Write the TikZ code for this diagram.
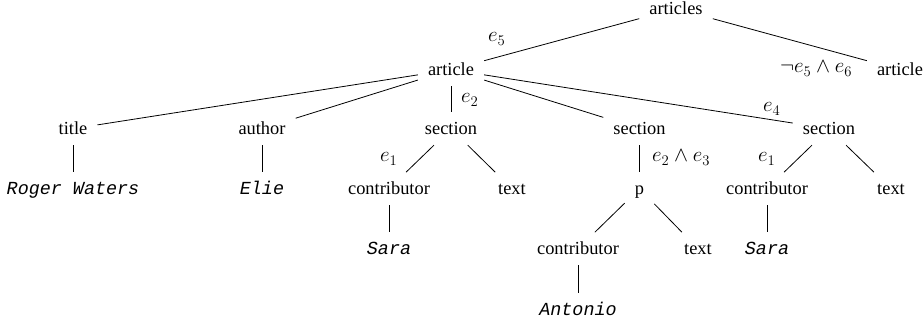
\documentclass[tikz,border=0pt]{standalone}
\usepackage{fix-cm}
\usepackage{fontspec}
\setmainfont{Liberation Serif}
\setmonofont{Liberation Mono}
\begin{document}
\begin{tikzpicture}[x=1pt,y=-1pt,
  tn/.style={anchor=base, inner xsep=10pt, inner ysep=10pt, text height=12.6pt, text depth=0pt, font=\fontsize{18.4}{22}\selectfont},
  leaf/.style={tn, font=\fontsize{18.4}{22}\selectfont\ttfamily\itshape},
  lab/.style={anchor=base west, inner sep=0pt, font=\fontsize{21}{25}\selectfont},
  conn/.style={line width=0.8pt}]
\useasboundingbox (0,0) rectangle (923,328);
% level 0-1
\node[tn] (articles) at (676,15) {articles};
\node[tn] (art1) at (451,76) {article};
\node[tn] (art2) at (900,76) {article};
% level 2
\node[tn] (title) at (73,135) {title};
\node[tn] (author) at (262,135) {author};
\node[tn] (sec1) at (451,135) {section};
\node[tn] (sec2) at (639.5,135) {section};
\node[tn] (sec3) at (829,135) {section};
% level 3
\node[leaf] (rw) at (73,195) {Roger Waters};
\node[leaf] (elie) at (262,195) {Elie};
\node[tn] (con1) at (389,195) {contributor};
\node[tn] (txt1) at (512,195) {text};
\node[tn] (p) at (639.5,195) {p};
\node[tn] (con3) at (767,195) {contributor};
\node[tn] (txt3) at (891,195) {text};
% level 4
\node[leaf] (sara1) at (389,255) {Sara};
\node[tn] (con2) at (578,255) {contributor};
\node[tn] (txt2) at (698,255) {text};
\node[leaf] (sara3) at (767,255) {Sara};
% level 5
\node[leaf] (antonio) at (578,316) {Antonio};
% labels
\node[lab] (l5) at (488,42) {$e_5$};
\node[lab] (l56) at (780,73) {$\neg e_5 \wedge e_6$};
\node[lab] (l2) at (461,103) {$e_2$};
\node[lab] (l4) at (763,112) {$e_4$};
\node[lab] (l1a) at (380,162) {$e_1$};
\node[lab] (l23) at (652,162) {$e_2 \wedge e_3$};
\node[lab] (l1b) at (758,162) {$e_1$};
% edges
\draw[conn] (articles) -- (art1);
\draw[conn] (articles) -- (art2);
\draw[conn] (art1) -- (title);
\draw[conn] (art1) -- (author);
\draw[conn] (art1) -- (sec1);
\draw[conn] (art1) -- (sec2);
\draw[conn] (art1) -- (sec3);
\draw[conn] (title) -- (rw);
\draw[conn] (author) -- (elie);
\draw[conn] (sec1) -- (con1);
\draw[conn] (sec1) -- (txt1);
\draw[conn] (con1) -- (sara1);
\draw[conn] (sec2) -- (p);
\draw[conn] (p) -- (con2);
\draw[conn] (p) -- (txt2);
\draw[conn] (con2) -- (antonio);
\draw[conn] (sec3) -- (con3);
\draw[conn] (sec3) -- (txt3);
\draw[conn] (con3) -- (sara3);
\end{tikzpicture}
\end{document}
